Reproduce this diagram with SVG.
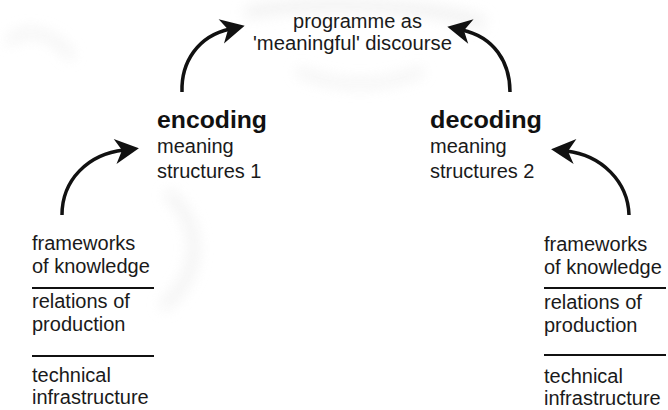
<svg xmlns="http://www.w3.org/2000/svg" width="668" height="410" viewBox="0 0 668 410">
  <style>
    .t { font-family: "Liberation Sans", Arial, sans-serif; font-size: 20px; fill: #1a1a1a; }
    .b { font-family: "Liberation Sans", Arial, sans-serif; font-size: 24px; font-weight: bold; fill: #111; }
    .arc { fill: none; stroke: #111; stroke-width: 3.5; stroke-linecap: butt; }
    .rule { stroke: #111; stroke-width: 2; }
    .smudge { fill: none; stroke: #ececec; stroke-linecap: round; }
  </style>
  <defs>
    <marker id="head" markerUnits="userSpaceOnUse" markerWidth="40" markerHeight="40" refX="0" refY="0" orient="auto" overflow="visible">
      <path d="M15,0 L-9,-12 L-2,0 L-9,13 Z" fill="#111"/>
    </marker>
    <filter id="blur" x="-20%" y="-20%" width="140%" height="140%">
      <feGaussianBlur stdDeviation="7"/>
    </filter>
  </defs>
  <rect width="668" height="410" fill="#fff"/>
  <g id="background" filter="url(#blur)" opacity="0.7">
    <path class="smudge" stroke-width="12" d="M250,12 C300,2 420,2 480,22"/>
    <path class="smudge" stroke-width="8" d="M10,40 C30,25 55,35 70,55"/>
    <path class="smudge" stroke-width="10" d="M170,195 C205,230 200,275 165,305"/>
    <path class="smudge" stroke-width="8" d="M300,72 C340,88 380,88 420,72"/>
  </g>
  <g id="connectors">
    <path class="arc" d="M62,215 C62,180 88,154 124,150" marker-end="url(#head)"/>
    <path class="arc" d="M182,92 C181,62 198,36 230,29" marker-end="url(#head)"/>
    <path class="arc" d="M510,92 C510,62 494,37 462,30" marker-end="url(#head)"/>
    <path class="arc" d="M629,215 C628,182 602,155 566,151" marker-end="url(#head)"/>
  </g>
  <g id="programme">
    <text class="t" x="293" y="28" textLength="129" lengthAdjust="spacingAndGlyphs">programme as</text>
    <text class="t" x="253" y="50" textLength="199" lengthAdjust="spacingAndGlyphs">'meaningful' discourse</text>
  </g>
  <g id="encoding">
    <text class="b" x="157" y="128" textLength="110" lengthAdjust="spacingAndGlyphs">encoding</text>
    <text class="t" x="157" y="153">meaning</text>
    <text class="t" x="157" y="178">structures 1</text>
  </g>
  <g id="decoding">
    <text class="b" x="430" y="128" textLength="112" lengthAdjust="spacingAndGlyphs">decoding</text>
    <text class="t" x="430" y="153">meaning</text>
    <text class="t" x="430" y="178">structures 2</text>
  </g>
  <g id="left-structures">
    <text class="t" x="32" y="250">frameworks</text>
    <text class="t" x="32" y="273">of knowledge</text>
    <line class="rule" x1="32" y1="288" x2="154" y2="288"/>
    <text class="t" x="32" y="308">relations of</text>
    <text class="t" x="32" y="331">production</text>
    <line class="rule" x1="32" y1="356" x2="154" y2="356"/>
    <text class="t" x="32" y="382">technical</text>
    <text class="t" x="32" y="404">infrastructure</text>
  </g>
  <g id="right-structures">
    <text class="t" x="544" y="251">frameworks</text>
    <text class="t" x="544" y="274">of knowledge</text>
    <line class="rule" x1="544" y1="288" x2="666" y2="288"/>
    <text class="t" x="544" y="309">relations of</text>
    <text class="t" x="544" y="332">production</text>
    <line class="rule" x1="544" y1="355" x2="666" y2="355"/>
    <text class="t" x="544" y="383">technical</text>
    <text class="t" x="544" y="405">infrastructure</text>
  </g>
</svg>
